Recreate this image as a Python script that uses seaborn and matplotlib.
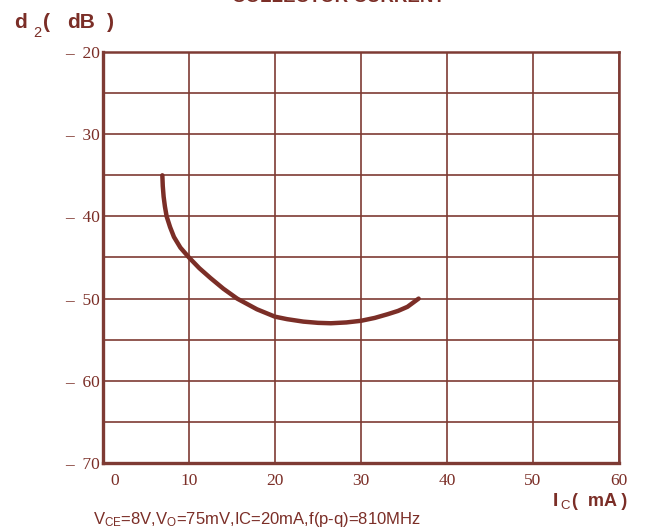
import matplotlib
matplotlib.use("Agg")
import matplotlib.pyplot as plt
import matplotlib.transforms as mtransforms
import seaborn as sns

# curve: d2 (dB) against collector current Ic (mA)
ic_ma = [6.9, 6.95, 7.05, 7.2, 7.4, 7.8, 8.25, 9.0, 10.0, 11.2, 12.5, 14.0, 15.6, 17.9, 20.0,
         21.4, 23.3, 25.0, 26.5, 28.3, 30.0, 31.6, 33.1, 34.3, 35.4, 36.7]
d2_db = [-35, -36.3, -37.6, -38.8, -40, -41.3, -42.5, -43.8, -45, -46.3, -47.5, -48.8, -50,
         -51.3, -52.2, -52.5, -52.8, -52.95, -53.0, -52.9, -52.7, -52.35, -51.9, -51.5, -51.0, -50.0]

x_ticks = [0, 10, 20, 30, 40, 50, 60]
y_ticks = [-20, -30, -40, -50, -60, -70]
y_tick_labels = ["\u2013  20", "\u2013  30", "\u2013  40", "\u2013  50", "\u2013  60", "\u2013  70"]

brown = "#7b2e27"
grid_brown = "#7e3b34"

sns.set_style("white")
plt.rcParams["font.family"] = ["Liberation Sans", "DejaVu Sans"]
plt.rcParams["mathtext.fontset"] = "custom"
plt.rcParams["mathtext.rm"] = "Liberation Sans"
plt.rcParams["mathtext.it"] = "Liberation Sans"
plt.rcParams["mathtext.bf"] = "Liberation Sans:bold"

W, H = 649, 530
fig = plt.figure(figsize=(W / 100, H / 100), dpi=100)
ax = fig.add_axes([103 / W, 1 - 463 / H, 516 / W, 411 / H])

sns.lineplot(x=ic_ma, y=d2_db, sort=False, color=brown, linewidth=3.2, ax=ax)

ax.set_xlim(0, 60)
ax.set_ylim(-70, -20)
ax.set_xticks(x_ticks)
ax.set_xticklabels([str(t) for t in x_ticks], family="Liberation Serif", fontsize=12.5, color=brown)
ax.set_yticks(y_ticks)
ax.set_yticklabels(y_tick_labels, family="Liberation Serif", fontsize=12.5, color=brown)
ax.set_yticks(range(-65, -20, 5), minor=True)
ax.tick_params(axis="both", which="both", length=0)
ax.tick_params(axis="y", pad=2)
ax.tick_params(axis="x", pad=7)

# the "0" sits to the right of the axis line in the reference
lbl0 = ax.get_xticklabels()[0]
lbl0.set_transform(lbl0.get_transform() + mtransforms.ScaledTranslation(12 / 100, 0, fig.dpi_scale_trans))

ax.grid(True, which="both", color=grid_brown, linewidth=1.2)
for side in ["left", "bottom", "top", "right"]:
    ax.spines[side].set_visible(True)
    ax.spines[side].set_color(grid_brown)
ax.spines["left"].set_linewidth(2.4)
ax.spines["bottom"].set_linewidth(2.4)
ax.spines["top"].set_linewidth(1.8)
ax.spines["right"].set_linewidth(1.8)
ax.set_xlabel("")
ax.set_ylabel("")


def fx(px):
    return px / W


def fy(py):
    return 1 - py / H


# title, cut off at the top edge as in the source image
fig.text(fx(338), fy(2), "COLLECTOR CURRENT", ha="center", va="baseline",
         fontsize=13.5, fontweight="bold", color=brown)

# y axis title  d2( dB )
fig.text(fx(14), fy(28), "d", ha="left", va="baseline", fontsize=15, fontweight="bold", color=brown)
fig.text(fx(33), fy(37), "2", ha="left", va="baseline", fontsize=10.5, color=brown)
fig.text(fx(43), fy(28), "(", ha="left", va="baseline", fontsize=15, fontweight="bold", color=brown)
fig.text(fx(67), fy(28), "dB", ha="left", va="baseline", fontsize=15, fontweight="bold", color=brown)
fig.text(fx(107), fy(28), ")", ha="left", va="baseline", fontsize=15, fontweight="bold", color=brown)

# x axis title  Ic ( mA )
fig.text(fx(553), fy(506), "I", ha="left", va="baseline", fontsize=14, fontweight="bold", color=brown)
fig.text(fx(560), fy(509), "C", ha="left", va="baseline", fontsize=9.5, color=brown)
fig.text(fx(572), fy(506), "(  mA )", ha="left", va="baseline", fontsize=13, fontweight="bold", color=brown)

# test conditions
fig.text(fx(93), fy(524),
         r"V$_{\rm CE}$=8V,V$_{\rm O}$=75mV,I$\bf{}$C=20mA,f(p-q)=810MHz".replace(r"$\bf{}$", ""),
         ha="left", va="baseline", fontsize=12, color=brown)

fig.savefig("out.png", dpi=100)
